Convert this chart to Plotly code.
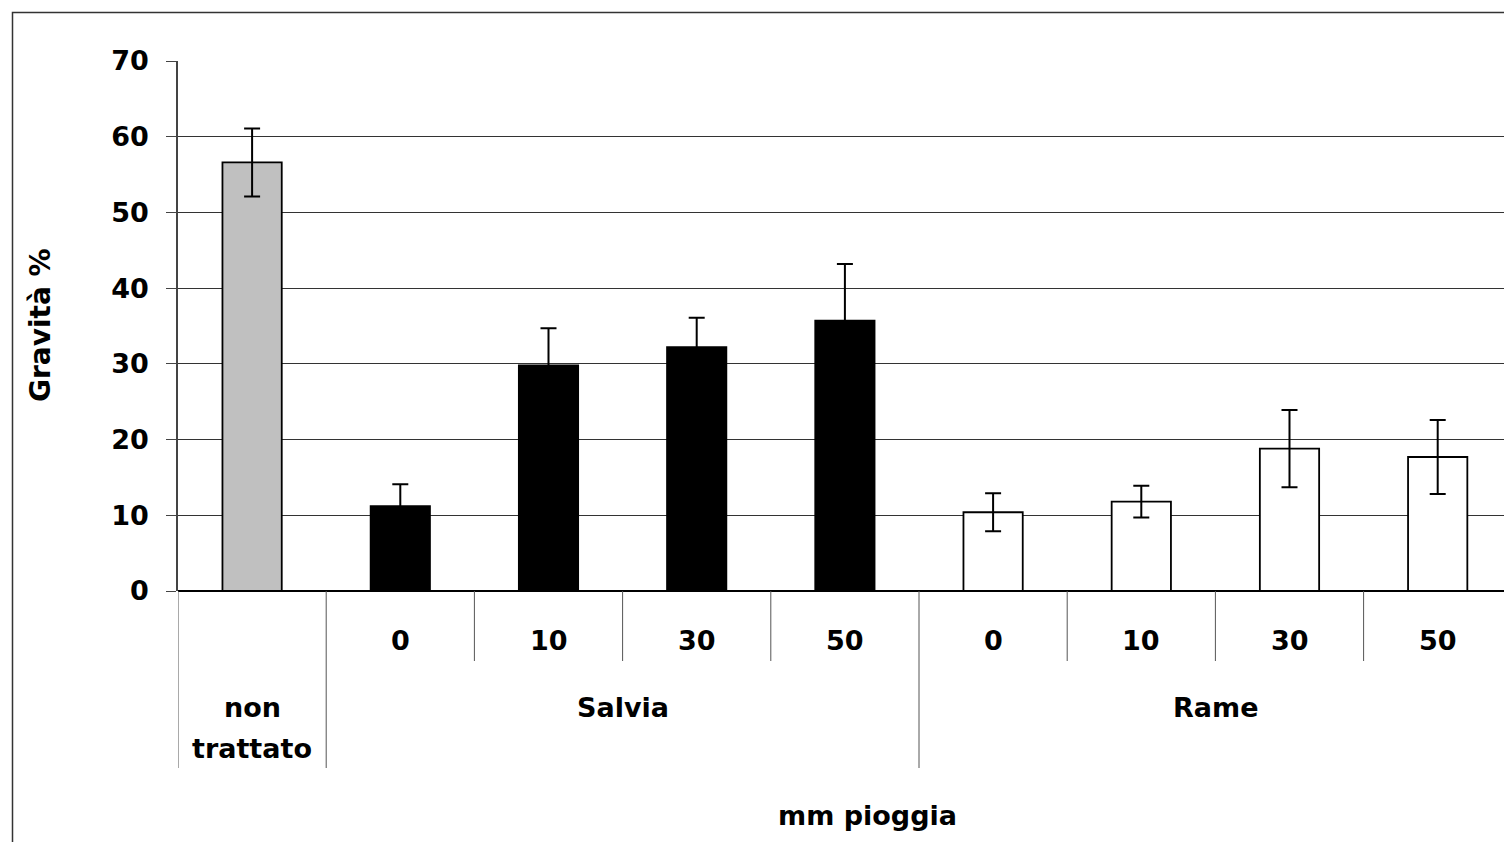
import plotly.graph_objects as go

# ---- data ----
groups = ["non trattato", "Salvia", "Salvia", "Salvia", "Salvia", "Rame", "Rame", "Rame", "Rame"]
subs = ["", "0", "10", "30", "50", "0", "10", "30", "50"]
values = [56.6, 11.2, 29.8, 32.2, 35.7, 10.4, 11.8, 18.8, 17.7]
errors = [4.5, 2.9, 4.9, 3.9, 7.5, 2.5, 2.1, 5.1, 4.9]
group_colors = {"non trattato": "#C0C0C0", "Salvia": "#000000", "Rame": "#FFFFFF"}
y_ticks = [0, 10, 20, 30, 40, 50, 60, 70]

FONT = "DejaVu Sans"
OFF = 8  # page body margin
W, H = 1512, 842
L, R, T, B = 178 - OFF, 0, 61 - OFF, H - (591 - OFF)
plot_w = W - L - R
plot_h = H - T - B
CAT_W = 148.2  # pixels per category in the reference

xs = list(range(len(values)))
n = len(xs)
colors = [group_colors[g] for g in groups]
x_max = -0.5 + plot_w / CAT_W

fig = go.Figure()
fig.add_trace(go.Bar(
    x=xs, y=values, width=0.4,
    marker=dict(color=colors, line=dict(color="black", width=1.8)),
    error_y=dict(type="data", array=errors, visible=True, color="black", thickness=2, width=8),
    showlegend=False,
))

def py(pix):  # reference-page pixel y -> paper y
    return (T + plot_h - (pix - OFF)) / plot_h

def px(pix):
    return (pix - OFF - L) / plot_w

shapes = []
# outer chart border (cropped on right/bottom)
shapes.append(dict(type="rect", xref="paper", yref="paper",
                   x0=px(12.5), x1=px(W + 40), y0=py(H + 40), y1=py(12.5),
                   line=dict(color="#333333", width=1.5), layer="below"))

# category dividers
for i in range(n + 1):
    xpos = i - 0.5
    if i == 0 or i == n or groups[i] != groups[i - 1]:
        y_end = py(768)
    else:
        y_end = py(661)
    shapes.append(dict(type="line", xref="x", yref="paper", x0=xpos, x1=xpos,
                       y0=0, y1=y_end, line=dict(color="#555555", width=1)))

lab_font = dict(family=FONT, size=27, color="black")
annotations = []
# sub-category labels
for x, s in zip(xs, subs):
    if s:
        annotations.append(dict(x=x, y=py(640), xref="x", yref="paper", text="<b>%s</b>" % s,
                                showarrow=False, font=lab_font,
                                xanchor="center", yanchor="middle"))
# group labels
seen = []
for g in groups:
    if g not in seen:
        seen.append(g)
for g in seen:
    idx = [i for i, gg in enumerate(groups) if gg == g]
    center = (idx[0] + idx[-1]) / 2
    if len(idx) == 1:
        parts = g.split(" ")
        ypos = [707, 748]
    else:
        parts = [g]
        ypos = [707]
    for p, yy in zip(parts, ypos):
        annotations.append(dict(x=center, y=py(yy), xref="x", yref="paper", text="<b>%s</b>" % p,
                                showarrow=False, font=lab_font,
                                xanchor="center", yanchor="middle"))
# axis titles
annotations.append(dict(x=px(867), y=py(815), xref="paper", yref="paper", text="<b>mm pioggia</b>",
                        showarrow=False, font=lab_font,
                        xanchor="center", yanchor="middle"))
annotations.append(dict(x=px(40), y=py(325), xref="paper", yref="paper", text="<b>Gravità %</b>",
                        showarrow=False, textangle=-90,
                        font=dict(family=FONT, size=28, color="black"),
                        xanchor="center", yanchor="middle"))

fig.update_layout(
    width=W, height=H,
    margin=dict(l=L, r=R, t=T, b=B, pad=0),
    paper_bgcolor="white", plot_bgcolor="white",
    shapes=shapes, annotations=annotations,
    xaxis=dict(range=[-0.5, x_max], showticklabels=False, showgrid=False,
               zeroline=False, showline=False, ticks=""),
    yaxis=dict(range=[0, 70], tickvals=y_ticks, ticktext=["<b>%d</b>" % v for v in y_ticks],
               showgrid=True, gridcolor="#333333", gridwidth=1,
               zeroline=True, zerolinecolor="black", zerolinewidth=1.8,
               showline=True, linecolor="#444444", linewidth=1.5,
               ticks="outside", ticklen=10, tickcolor="#444444", tickwidth=1,
               ticklabelstandoff=12,
               tickfont=dict(family=FONT, size=27, color="black")),
)

fig.write_html("out.html")
